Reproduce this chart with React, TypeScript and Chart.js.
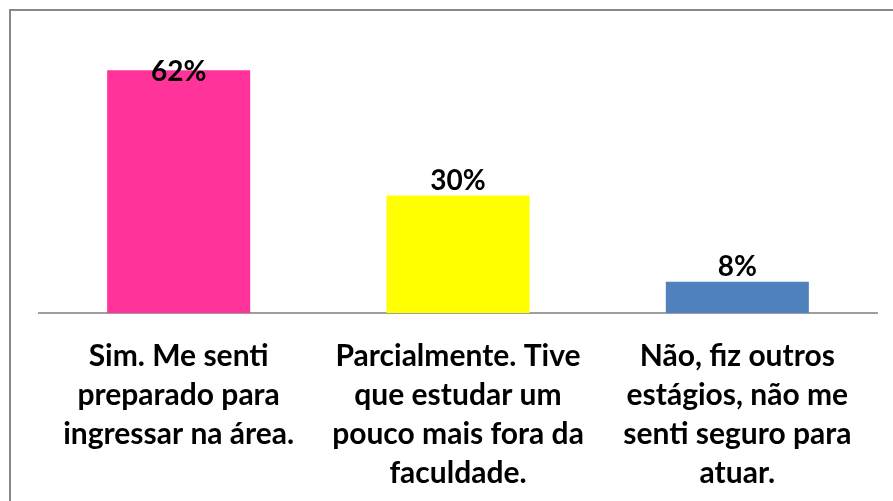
import React, { useEffect, useRef } from "react";
import { Chart, registerables } from "chart.js";

Chart.register(...registerables);

const categories: string[][] = [
  ["Sim. Me senti", "preparado para", "ingressar na área."],
  ["Parcialmente. Tive", "que estudar um", "pouco mais fora da", "faculdade."],
  ["Não, fiz outros", "estágios, não me", "senti seguro para", "atuar."],
];
const values: number[] = [62, 30, 8];
const valueLabels: string[] = ["62%", "30%", "8%"];
const barColors: string[] = ["#FF3399", "#FFFF00", "#4F81BD"];

const FONT = "Lato, 'Noto Sans', sans-serif";

const framePlugin = {
  id: "frame",
  afterDraw(chart: any) {
    const ctx = chart.ctx;
    ctx.save();
    ctx.strokeStyle = "#878787";
    ctx.lineWidth = 2;
    ctx.strokeRect(10, 10, chart.width + 50, chart.height + 50);
    ctx.restore();
  },
};

const valueLabelPlugin = {
  id: "valueLabels",
  afterDatasetsDraw(chart: any) {
    const ctx = chart.ctx;
    const meta = chart.getDatasetMeta(0);
    ctx.save();
    ctx.font = `bold 28px ${FONT}`;
    ctx.fillStyle = "#000000";
    ctx.textAlign = "center";
    ctx.textBaseline = "middle";
    meta.data.forEach((bar: any, i: number) => {
      let y = bar.y - 15;
      if (y - 12 < 60) y = bar.y + 2;
      ctx.fillText(valueLabels[i], bar.x, y);
    });
    ctx.restore();
  },
};

export default function App() {
  const ref = useRef<HTMLCanvasElement | null>(null);
  useEffect(() => {
    if (!ref.current) return;
    const chart = new Chart(ref.current, {
      type: "bar",
      data: {
        labels: categories,
        datasets: [
          {
            data: values,
            backgroundColor: barColors,
            borderWidth: 0,
            categoryPercentage: 1,
            barPercentage: 0.512,
          },
        ],
      },
      options: {
        animation: false,
        responsive: true,
        maintainAspectRatio: false,
        layout: { padding: { left: 39, right: 16, top: 39, bottom: 0 } },
        plugins: { legend: { display: false }, tooltip: { enabled: false } },
        scales: {
          y: { display: false, min: 0, max: 70 },
          x: {
            grid: { display: false, drawTicks: false },
            border: { display: true, color: "#9E9E9E", width: 2 },
            ticks: {
              color: "#000000",
              padding: 24,
              maxRotation: 0,
              autoSkip: false,
              font: { family: FONT, size: 30, weight: "bold", lineHeight: "39px" },
            },
            afterFit: (scale: any) => {
              scale.height = 188;
            },
          },
        },
      },
      plugins: [valueLabelPlugin, framePlugin],
    });
    return () => chart.destroy();
  }, []);
  return (
    <div style={{ position: "fixed", left: 0, top: 0, width: 893, height: 501, background: "#fff" }}>
      <canvas ref={ref} />
    </div>
  );
}
